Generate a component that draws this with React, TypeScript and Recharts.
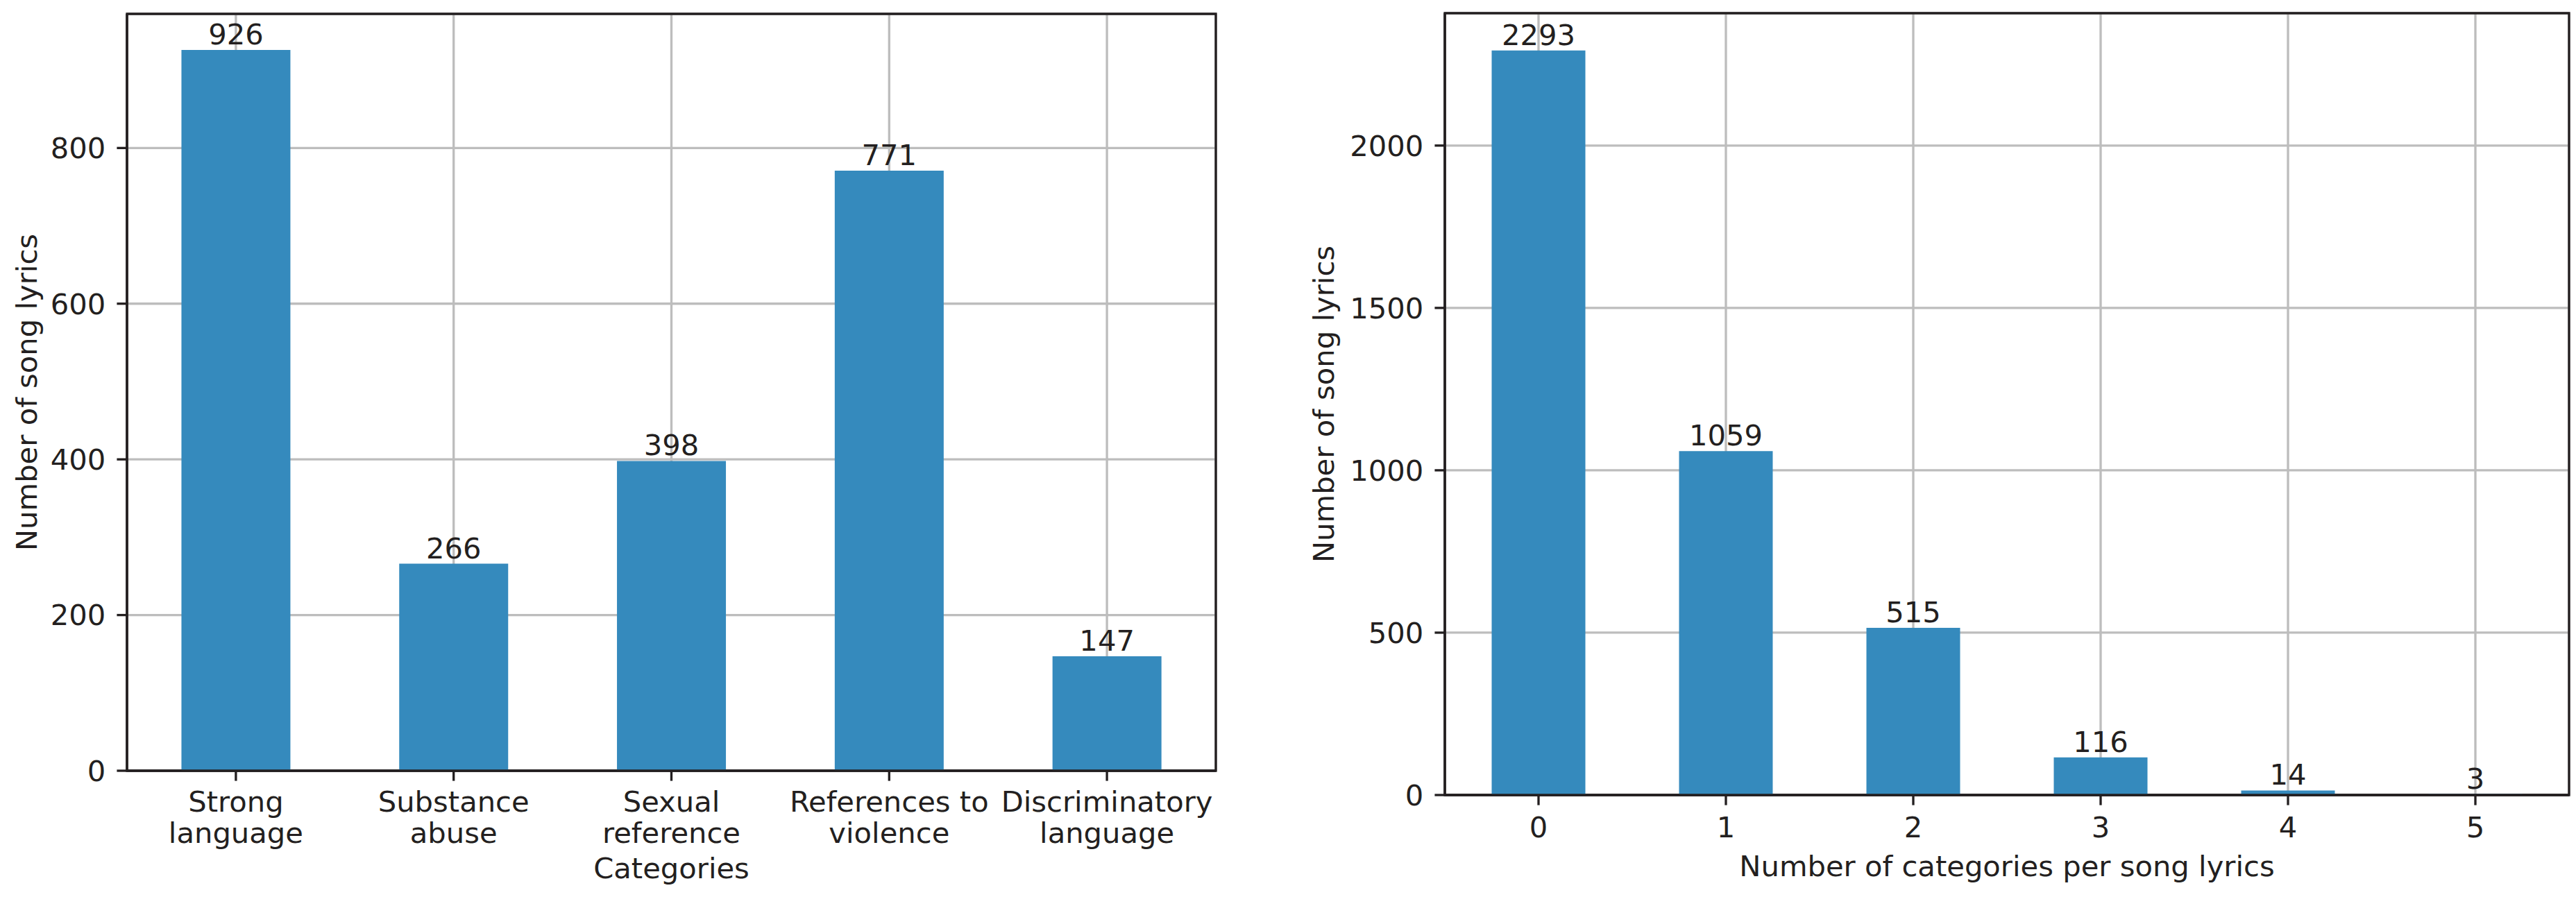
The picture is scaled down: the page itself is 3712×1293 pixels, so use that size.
import React from 'react';
import { BarChart, Bar, XAxis, YAxis, CartesianGrid, LabelList, ReferenceArea } from 'recharts';

const categories = [
  'Strong\nlanguage',
  'Substance\nabuse',
  'Sexual\nreference',
  'References to\nviolence',
  'Discriminatory\nlanguage',
];
const categoryCounts = [926, 266, 398, 771, 147];
const leftTicks = [0, 200, 400, 600, 800];

const perSongLabels = ['0', '1', '2', '3', '4', '5'];
const perSongCounts = [2293, 1059, 515, 116, 14, 3];
const rightTicks = [0, 500, 1000, 1500, 2000];

const leftData = categories.map((name, i) => ({ name, value: categoryCounts[i] }));
const rightData = perSongLabels.map((name, i) => ({ name, value: perSongCounts[i] }));

const leftMax = Math.max(...categoryCounts) * 1.05;
const rightMax = Math.max(...perSongCounts) * 1.05;

const FONT = 'DejaVu Sans';
const FS = 41.7;
const INK = '#231f20';
const GRID = '#bdbdbd';
const BAR = '#358abd';
const LW = 3.33;
const TICK = 14.6;

const CatTick = (props: any) => {
  const { x, y, payload } = props;
  const lines = String(payload.value).split('\n');
  return (
    <text x={x} y={y} textAnchor="middle" fill={INK} fontSize={FS} fontFamily={FONT}>
      {lines.map((l, i) => (
        <tspan key={i} x={x} dy={i === 0 ? 29.6 : 45}>
          {l}
        </tspan>
      ))}
    </text>
  );
};

const YLabel = (bx: number, cy: number, text: string) => (props: any) => (
  <text
    x={bx}
    y={cy}
    transform={`rotate(-90, ${bx}, ${cy})`}
    textAnchor="middle"
    fill={INK}
    fontSize={FS}
    fontFamily={FONT}
  >
    {text}
  </text>
);

const XLabel = (cx: number, by: number, text: string) => (props: any) => (
  <text x={cx} y={by} textAnchor="middle" fill={INK} fontSize={FS} fontFamily={FONT}>
    {text}
  </text>
);

export default function App() {
  return (
    <div style={{ position: 'absolute', left: 0, top: 0, width: 3712, height: 1293, background: '#fff' }}>
      <div style={{ position: 'absolute', left: 0, top: 0 }}>
        <BarChart
          width={1800}
          height={1293}
          data={leftData}
          margin={{ top: 20, right: 48, bottom: 0, left: 0 }}
          barCategoryGap="25%"
        >
          <CartesianGrid stroke={GRID} strokeWidth={LW} />
          <XAxis
            dataKey="name"
            interval={0}
            height={182}
            tick={<CatTick />}
            tickSize={TICK}
            tickMargin={15}
            tickLine={{ stroke: INK, strokeWidth: LW }}
            axisLine={{ stroke: INK, strokeWidth: LW }}
            label={{ content: XLabel(967.5, 1266, 'Categories') }}
          />
          <YAxis
            width={183}
            domain={[0, leftMax]}
            ticks={leftTicks}
            allowDataOverflow
            tickSize={TICK}
            tickMargin={16}
            tick={{ fill: INK, fontSize: FS, fontFamily: FONT }}
            tickLine={{ stroke: INK, strokeWidth: LW }}
            axisLine={{ stroke: INK, strokeWidth: LW }}
            label={{ content: YLabel(53, 565.5, 'Number of song lyrics') }}
          />
          <Bar dataKey="value" fill={BAR} isAnimationActive={false}>
            <LabelList
              dataKey="value"
              position="top"
              offset={8}
              fill={INK}
              fontSize={FS}
              fontFamily={FONT}
            />
          </Bar>
          <ReferenceArea
            x1={categories[0]}
            x2={categories[categories.length - 1]}
            y1={0}
            y2={leftMax}
            fill="none"
            fillOpacity={0}
            stroke={INK}
            strokeWidth={LW}
            ifOverflow="visible"
          />
        </BarChart>
      </div>
      <div style={{ position: 'absolute', left: 1800, top: 0 }}>
        <BarChart
          width={1912}
          height={1293}
          data={rightData}
          margin={{ top: 19, right: 10, bottom: 0, left: 0 }}
          barCategoryGap="25%"
        >
          <CartesianGrid stroke={GRID} strokeWidth={LW} />
          <XAxis
            dataKey="name"
            interval={0}
            height={147}
            tickSize={TICK}
            tickMargin={16.8}
            tick={{ fill: INK, fontSize: FS, fontFamily: FONT }}
            tickLine={{ stroke: INK, strokeWidth: LW }}
            axisLine={{ stroke: INK, strokeWidth: LW }}
            label={{ content: XLabel(1092, 1263, 'Number of categories per song lyrics') }}
          />
          <YAxis
            width={282}
            domain={[0, rightMax]}
            ticks={rightTicks}
            allowDataOverflow
            tickSize={TICK}
            tickMargin={16}
            tick={{ fill: INK, fontSize: FS, fontFamily: FONT }}
            tickLine={{ stroke: INK, strokeWidth: LW }}
            axisLine={{ stroke: INK, strokeWidth: LW }}
            label={{ content: YLabel(122, 582.5, 'Number of song lyrics') }}
          />
          <Bar dataKey="value" fill={BAR} isAnimationActive={false}>
            <LabelList
              dataKey="value"
              position="top"
              offset={8}
              fill={INK}
              fontSize={FS}
              fontFamily={FONT}
            />
          </Bar>
          <ReferenceArea
            x1={perSongLabels[0]}
            x2={perSongLabels[perSongLabels.length - 1]}
            y1={0}
            y2={rightMax}
            fill="none"
            fillOpacity={0}
            stroke={INK}
            strokeWidth={LW}
            ifOverflow="visible"
          />
        </BarChart>
      </div>
    </div>
  );
}
